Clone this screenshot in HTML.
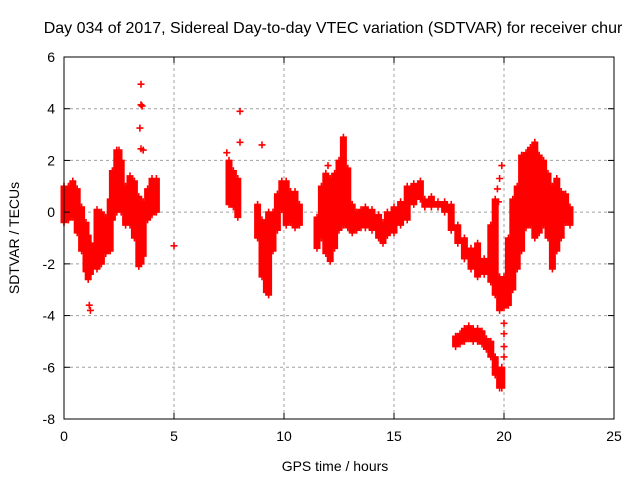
<!DOCTYPE html>
<html><head><meta charset="utf-8"><style>
body{margin:0;background:#fff}
svg{display:block;font-family:"Liberation Sans",sans-serif}
</style></head><body>
<svg id="chart" width="640" height="480">
<text x="333" y="33" font-size="16" text-anchor="middle">Day 034 of 2017, Sidereal Day-to-day VTEC variation (SDTVAR) for receiver chur</text>
<text x="335" y="471" font-size="14" text-anchor="middle">GPS time / hours</text>
<text transform="translate(19,238) rotate(-90)" font-size="14" text-anchor="middle">SDTVAR / TECUs</text>
<g id="grid"></g><g id="marks"></g><g id="axes"></g>
</svg>
<script>
const xTicks=[0,5,10,15,20,25];
const yTicks=[-8,-6,-4,-2,0,2,4,6];
const bandTimes=[0.0,0.2,0.4,0.6,0.8,1.0,1.1,1.2,1.5,1.7,1.9,2.1,2.2,2.4,2.5,2.6,2.8,3.0,3.2,3.4,3.5,3.6,3.8,4.0,4.2,
7.5,7.7,7.9,8.8,9.0,9.2,9.3,9.5,9.7,9.9,10.1,10.3,10.5,10.7,
11.5,11.7,11.9,12.1,12.3,12.5,12.7,12.9,13.1,13.3,13.5,13.7,14.0,14.3,14.5,14.7,15.0,15.3,15.6,15.9,16.2,16.4,16.7,17.0,17.3,17.6,17.9,18.2,18.5,18.8,19.1,19.4,19.6,19.8,
17.8,18.0,18.2,18.4,18.6,18.8,19.0,19.2,19.4,19.6,19.8,19.9,
20.0,20.2,20.4,20.6,20.8,21.0,21.2,21.4,21.6,21.8,22.0,22.2,22.4,22.6,22.8,23.0];
const bandLow=[-0.4,-0.3,-0.2,-0.8,-1.5,-2.3,-2.6,-2.4,-2.2,-2.0,-1.6,-1.5,-0.3,0.0,0.2,0.0,-0.5,-0.5,-1.0,-2.1,-2.0,-1.7,-0.3,-0.1,0.0,
0.3,0.2,-0.2,-1.0,-2.5,-3.1,-3.2,-1.5,-0.7,0.1,-0.5,-0.4,-0.6,-0.5,
-1.4,-1.0,-1.6,-1.9,-1.4,-0.7,-0.5,-0.6,-0.8,-0.7,-0.6,-0.6,-0.7,-1.0,-1.2,-0.9,-0.8,-0.5,-0.3,0.3,0.5,0.2,0.2,0.2,0.0,-0.7,-1.2,-1.8,-2.2,-2.5,-2.4,-2.7,-3.2,-3.8,
-5.2,-5.1,-5.0,-4.9,-5.0,-5.0,-5.1,-5.3,-5.6,-6.3,-6.8,-6.8,
-3.7,-3.6,-3.0,-2.2,-1.5,-0.6,-0.5,-1.0,-0.8,-0.5,-1.0,-2.2,-1.5,-1.0,-0.4,-0.5];
const bandHigh=[1.0,1.0,1.2,0.9,0.2,-0.4,-0.9,-1.2,0.1,0.0,-0.2,0.5,1.6,2.4,2.4,2.0,1.0,1.4,1.2,0.6,0.3,0.4,0.9,1.3,1.3,
2.0,1.6,1.3,0.3,-0.3,-0.8,0.0,0.0,0.7,1.2,1.2,0.8,0.8,0.3,
-0.2,1.0,1.5,1.3,1.5,2.0,2.9,1.7,0.3,0.0,0.1,0.2,0.1,-0.1,-0.4,0.0,0.2,0.4,1.0,1.1,1.2,0.5,0.6,0.4,0.4,0.3,-0.5,-1.0,-1.4,-1.2,-1.8,-0.5,0.5,-2.5,
-4.8,-4.7,-4.5,-4.4,-4.5,-4.5,-4.6,-4.9,-5.0,-5.6,-6.2,-6.0,
-2.5,-1.0,0.5,1.0,2.2,2.3,2.5,2.7,2.2,2.0,1.5,1.0,1.3,0.8,0.7,0.2];
const outT=[3.5,3.5,3.55,3.45,3.5,3.6,8.0,8.0,7.4,9.0,5.0,1.2,1.15,19.9,19.8,20.0,20.0,20.0,20.0,12.0,11.8,19.7,19.75];
const outV=[4.95,4.15,4.1,3.25,2.45,2.4,3.9,2.7,2.3,2.6,-1.3,-3.8,-3.6,1.8,1.3,-4.3,-4.7,-5.2,-5.6,1.8,0.5,0.9,0.4];

const X0=64,X1=614,Y0=419,Y1=57;
const sx=t=>X0+(t-0)/(25-0)*(X1-X0);
const sy=v=>Y0-(v+8)/(14)*(Y0-Y1);
const NS='http://www.w3.org/2000/svg';
const grid=document.getElementById('grid'),marks=document.getElementById('marks'),axes=document.getElementById('axes');
function mk(tag,at,parent){const e=document.createElementNS(NS,tag);for(const k in at)e.setAttribute(k,at[k]);parent.appendChild(e);return e;}
xTicks.forEach(t=>{
  if(t>0&&t<25){const g=mk('line',{x1:sx(t),x2:sx(t),y1:Y0,y2:Y1,stroke:'#a0a0a0','stroke-dasharray':'3,3'},grid);
  
  }
  const l=mk('text',{x:sx(t),y:Y0+22,'font-size':14,'text-anchor':'middle'},axes);l.textContent=t;
  
  
  mk('line',{x1:sx(t),x2:sx(t),y1:Y0,y2:Y0-6,stroke:'#000'},axes);
  mk('line',{x1:sx(t),x2:sx(t),y1:Y1,y2:Y1+6,stroke:'#000'},axes);
});
yTicks.forEach(v=>{
  if(v>-8&&v<6){const g=mk('line',{x1:X0,x2:X1,y1:sy(v),y2:sy(v),stroke:'#a0a0a0','stroke-dasharray':'3,3'},grid);
  
  }
  const l=mk('text',{x:X0-9,y:sy(v)+5,'font-size':14,'text-anchor':'end'},axes);l.textContent=v;
  
  
  mk('line',{x1:X0,x2:X0+6,y1:sy(v),y2:sy(v),stroke:'#000'},axes);
  mk('line',{x1:X1,x2:X1-6,y1:sy(v),y2:sy(v),stroke:'#000'},axes);
});
const b=mk('rect',{x:X0,y:Y1,width:X1-X0,height:Y0-Y1,fill:'none',stroke:'#000'},axes);


let d='';
function plus(t,v){const x=sx(t),y=sy(v);d+=`M${(x-3.5).toFixed(1)} ${y.toFixed(1)}h7M${x.toFixed(1)} ${(y-3.5).toFixed(1)}v7`;}
for(let i=0;i<bandTimes.length;i++){
  for(let v=bandLow[i];v<=bandHigh[i]+0.001;v+=0.06)plus(bandTimes[i],v);
  plus(bandTimes[i],bandHigh[i]);
}
for(let i=0;i<outT.length;i++)plus(outT[i],outV[i]);
const p=mk('path',{d:d,stroke:'#ff0000','stroke-width':1.6,fill:'none'},marks);


</script>
</body></html>
